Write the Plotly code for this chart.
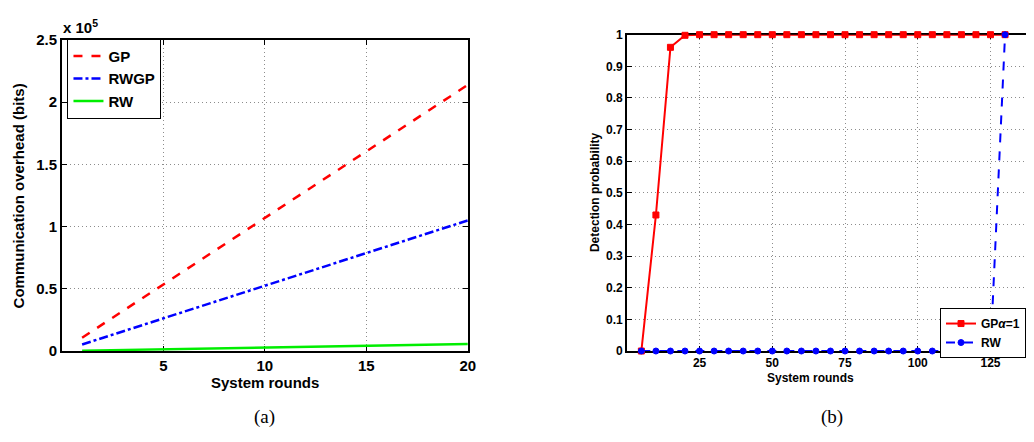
import plotly.graph_objects as go

# ---------------- data ----------------
rounds_a = list(range(1, 21))
gp_overhead = [10700, 21400, 32100, 42800, 53500, 64200, 74900, 85600, 96300, 107000,
               117700, 128400, 139100, 149800, 160500, 171200, 181900, 192600, 203300, 214000]
rwgp_overhead = [5250, 10500, 15750, 21000, 26250, 31500, 36750, 42000, 47250, 52500,
                 57750, 63000, 68250, 73500, 78750, 84000, 89250, 94500, 99750, 105000]
rw_overhead = [285, 570, 855, 1140, 1425, 1710, 1995, 2280, 2565, 2850,
               3135, 3420, 3705, 3990, 4275, 4560, 4845, 5130, 5415, 5700]

rounds_b = [5, 10, 15, 20, 25, 30, 35, 40, 45, 50, 55, 60, 65, 70, 75, 80, 85, 90,
            95, 100, 105, 110, 115, 120, 125, 130]
gp_detect = [0, 0.43, 0.96, 0.998, 1, 1, 1, 1, 1, 1, 1, 1, 1, 1, 1, 1, 1, 1,
             1, 1, 1, 1, 1, 1, 1, 1]
rw_detect = [0, 0, 0, 0, 0, 0, 0, 0, 0, 0, 0, 0, 0, 0, 0, 0, 0, 0,
             0, 0, 0, 0, 0, 0, 0, 1]

a_xticks = [5, 10, 15, 20]
a_yticks = [0, 50000, 100000, 150000, 200000, 250000]
a_yticklabels = ["0", "0.5", "1", "1.5", "2", "2.5"]
b_xticks = [25, 50, 75, 100, 125]
b_yticks = [0, 0.1, 0.2, 0.3, 0.4, 0.5, 0.6, 0.7, 0.8, 0.9, 1]
b_yticklabels = ["0", "0.1", "0.2", "0.3", "0.4", "0.5", "0.6", "0.7", "0.8", "0.9", "1"]

# ---------------- figure ----------------
W, H = 1034, 442
FONT = "Arial, Liberation Sans, Helvetica, sans-serif"
SERIF = "Times New Roman, Liberation Serif, serif"

def px(x):
    return x / W

def py(y):
    return 1 - y / H

fig = go.Figure()

fig.add_trace(go.Scatter(x=rounds_a, y=gp_overhead, mode="lines", name="GP",
                         line=dict(color="#ff0000", width=2.5, dash="dash"),
                         xaxis="x", yaxis="y", legend="legend"))
fig.add_trace(go.Scatter(x=rounds_a, y=rwgp_overhead, mode="lines", name="RWGP",
                         line=dict(color="#0000ff", width=2.5, dash="dashdot"),
                         xaxis="x", yaxis="y", legend="legend"))
fig.add_trace(go.Scatter(x=rounds_a, y=rw_overhead, mode="lines", name="RW",
                         line=dict(color="#00ee00", width=2.5),
                         xaxis="x", yaxis="y", legend="legend"))

fig.add_trace(go.Scatter(x=rounds_b, y=gp_detect, mode="lines+markers", name="GP<i>α</i>=1",
                         line=dict(color="#ff0000", width=2),
                         marker=dict(symbol="square", size=6, color="#ff0000",
                                     line=dict(color="#ff0000", width=1)),
                         cliponaxis=False,
                         xaxis="x2", yaxis="y2", legend="legend2"))
fig.add_trace(go.Scatter(x=rounds_b, y=rw_detect, mode="lines+markers", name="RW",
                         line=dict(color="#0000ff", width=2, dash="dash"),
                         marker=dict(symbol="circle", size=6, color="#0000ff",
                                     line=dict(color="#0000ff", width=1)),
                         cliponaxis=False,
                         xaxis="x2", yaxis="y2", legend="legend2"))

axis_common = dict(showline=True, linecolor="black", linewidth=1.5, ticks="inside",
                   ticklen=5, tickcolor="black", showgrid=True, gridcolor="#8c8c8c",
                   griddash="1px,3px", gridwidth=1, zeroline=False, layer="below traces")

fig.update_layout(
    width=W, height=H,
    margin=dict(l=0, r=0, t=0, b=0),
    paper_bgcolor="white", plot_bgcolor="white",
    showlegend=True,
    xaxis=dict(domain=[px(62.3), px(471.5)], range=[0, 20], tickvals=a_xticks,
               mirror="ticks", anchor="y",
               tickfont=dict(family=FONT, size=15, color="black", weight="bold"),
               **axis_common),
    yaxis=dict(domain=[py(355.7), py(32.3)], range=[0, 250000], tickvals=a_yticks,
               ticktext=a_yticklabels, mirror="ticks", anchor="x",
               tickfont=dict(family=FONT, size=15, color="black", weight="bold"),
               **axis_common),
    xaxis2=dict(domain=[px(631.7), 1.0], range=[0, 137.2], tickvals=b_xticks,
                mirror="ticks", anchor="y2",
                tickfont=dict(family=FONT, size=12, color="black", weight="bold"),
                **axis_common),
    yaxis2=dict(domain=[py(355.7), py(26.7)], range=[0, 1], tickvals=b_yticks,
                ticktext=b_yticklabels, mirror=False, anchor="x2",
                tickfont=dict(family=FONT, size=12, color="black", weight="bold"),
                **axis_common),
    legend=dict(x=px(68), y=py(31), xanchor="left", yanchor="top",
                bgcolor="white", bordercolor="black", borderwidth=1,
                font=dict(family=FONT, size=15, color="black", weight="bold"),
                tracegroupgap=0, itemwidth=30),
    legend2=dict(x=1.0, y=py(311), xanchor="right", yanchor="top",
                 bgcolor="white", bordercolor="black", borderwidth=1,
                 font=dict(family=FONT, size=12, color="black", weight="bold"),
                 tracegroupgap=0, itemwidth=30),
)

def ann(text, x, y, size, angle=0, family=FONT, weight="bold", xanchor="center"):
    fig.add_annotation(text=text, x=px(x), y=py(y), xref="paper", yref="paper",
                       showarrow=False, textangle=angle, xanchor=xanchor, yanchor="middle",
                       font=dict(family=family, size=size, color="black", weight=weight))

ann("Communication overhead (bits)", 19, 194, 15, angle=-90)
ann("System rounds", 267, 388, 15)
ann("x 10<sup>5</sup>", 61, 18, 15, xanchor="left")
ann("(a)", 267, 424, 19, family=SERIF, weight="normal")
ann("Detection probability", 599, 190, 12, angle=-90)
ann("System rounds", 817, 384, 12)
ann("(b)", 838, 424, 19, family=SERIF, weight="normal")

fig.write_html("out.html")
